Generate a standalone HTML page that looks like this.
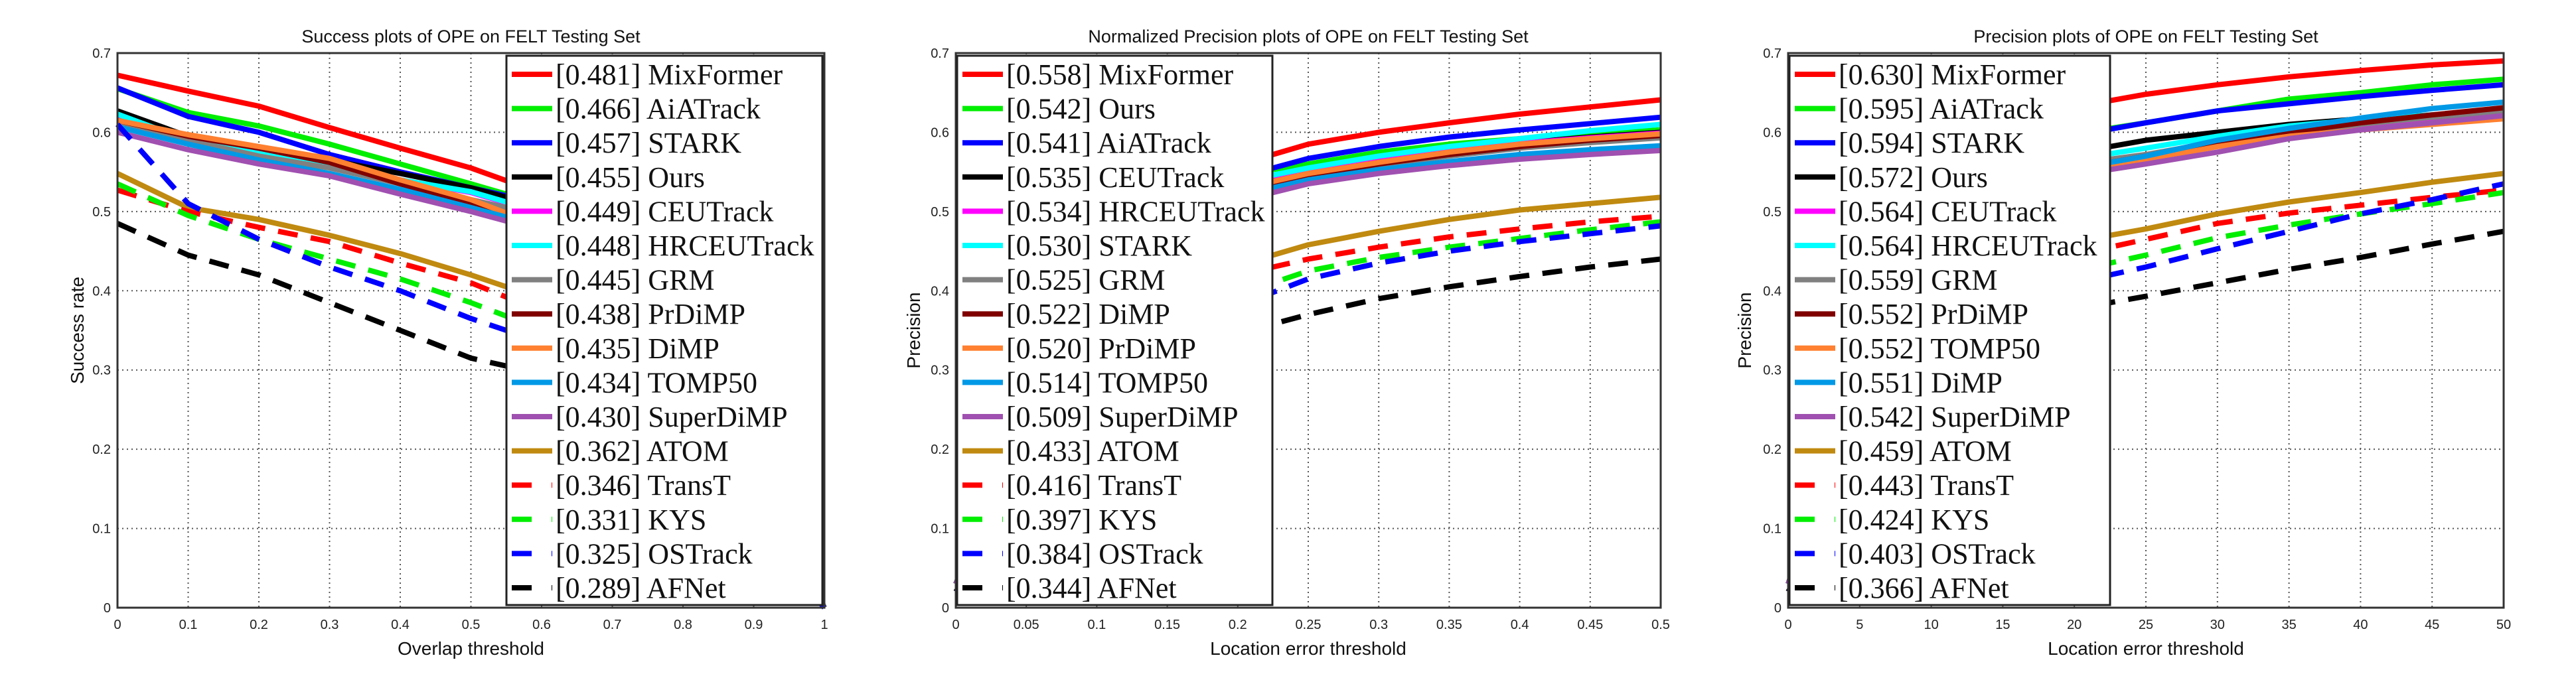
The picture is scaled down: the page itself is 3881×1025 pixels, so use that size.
<!DOCTYPE html>
<html><head><meta charset="utf-8">
<style>
html,body{margin:0;padding:0;background:#fff;}
svg{display:block;}
</style></head>
<body>
<svg id="chart" width="3881" height="1025" viewBox="0 0 3881 1025" xmlns="http://www.w3.org/2000/svg"></svg>
<script>
// ---------- Data ----------
// colours / styles by legend rank position
const rankColors = ['#ff0000','#00ee00','#0000ff','#000000','#ff00ff','#00ffff','#808080','#800000','#ff8030','#0099e6','#a050b0','#c08a10','#ff0000','#00ee00','#0000ff','#000000'];
const rankDashed = [false,false,false,false,false,false,false,false,false,false,false,false,true,true,true,true];

// Panel 1: Success
const p1X = [0,0.1,0.2,0.3,0.4,0.5,0.55,0.6,0.7,0.8,0.9,1.0];
const p1Names = ['MixFormer','AiATrack','STARK','Ours','CEUTrack','HRCEUTrack','GRM','PrDiMP','DiMP','TOMP50','SuperDiMP','ATOM','TransT','KYS','OSTrack','AFNet'];
const p1Scores = ['0.481','0.466','0.457','0.455','0.449','0.448','0.445','0.438','0.435','0.434','0.430','0.362','0.346','0.331','0.325','0.289'];
const p1Vals = [
 [0.672,0.652,0.633,0.606,0.580,0.555,0.539,0.52,0.46,0.36,0.2,0],
 [0.655,0.625,0.608,0.585,0.560,0.535,0.522,0.50,0.44,0.34,0.19,0],
 [0.656,0.620,0.600,0.572,0.550,0.530,0.520,0.50,0.44,0.34,0.19,0],
 [0.627,0.595,0.580,0.565,0.548,0.530,0.518,0.49,0.43,0.33,0.18,0],
 [0.620,0.590,0.575,0.560,0.540,0.524,0.511,0.49,0.43,0.33,0.18,0],
 [0.623,0.590,0.575,0.560,0.540,0.525,0.512,0.49,0.43,0.33,0.18,0],
 [0.610,0.590,0.570,0.555,0.535,0.515,0.505,0.48,0.42,0.32,0.17,0],
 [0.615,0.595,0.580,0.562,0.535,0.510,0.497,0.47,0.41,0.32,0.17,0],
 [0.615,0.597,0.582,0.567,0.540,0.515,0.498,0.47,0.41,0.32,0.17,0],
 [0.607,0.585,0.565,0.548,0.528,0.505,0.493,0.47,0.41,0.31,0.17,0],
 [0.600,0.578,0.560,0.545,0.522,0.500,0.488,0.46,0.40,0.31,0.16,0],
 [0.548,0.505,0.490,0.470,0.447,0.420,0.405,0.38,0.33,0.25,0.13,0],
 [0.527,0.500,0.480,0.462,0.435,0.410,0.392,0.37,0.32,0.24,0.12,0],
 [0.535,0.495,0.465,0.440,0.415,0.385,0.368,0.35,0.30,0.22,0.11,0],
 [0.610,0.510,0.465,0.430,0.400,0.365,0.350,0.33,0.28,0.21,0.10,0],
 [0.485,0.445,0.420,0.385,0.350,0.315,0.305,0.29,0.25,0.19,0.09,0]
];

// Panel 2: Normalized precision
const p2X = [0,0.05,0.1,0.15,0.2,0.225,0.25,0.3,0.35,0.4,0.45,0.5];
const p2Names = ['MixFormer','Ours','AiATrack','CEUTrack','HRCEUTrack','STARK','GRM','DiMP','PrDiMP','TOMP50','SuperDiMP','ATOM','TransT','KYS','OSTrack','AFNet'];
const p2Scores = ['0.558','0.542','0.541','0.535','0.534','0.530','0.525','0.522','0.520','0.514','0.509','0.433','0.416','0.397','0.384','0.344'];
const p2Vals = [
 [0.03,0.25,0.42,0.51,0.555,0.572,0.585,0.600,0.612,0.623,0.632,0.641],
 [0.03,0.24,0.41,0.50,0.540,0.553,0.560,0.575,0.585,0.592,0.598,0.603],
 [0.03,0.24,0.41,0.50,0.540,0.555,0.567,0.582,0.594,0.603,0.611,0.619],
 [0.03,0.24,0.40,0.49,0.530,0.542,0.550,0.565,0.577,0.587,0.594,0.600],
 [0.03,0.24,0.40,0.49,0.530,0.541,0.549,0.564,0.576,0.586,0.593,0.599],
 [0.03,0.24,0.40,0.49,0.532,0.546,0.555,0.570,0.582,0.592,0.602,0.610],
 [0.03,0.23,0.39,0.48,0.525,0.536,0.545,0.558,0.570,0.580,0.587,0.593],
 [0.03,0.23,0.39,0.48,0.525,0.537,0.545,0.560,0.572,0.582,0.590,0.596],
 [0.03,0.23,0.39,0.48,0.525,0.538,0.548,0.562,0.575,0.585,0.592,0.598],
 [0.03,0.23,0.39,0.47,0.520,0.530,0.540,0.553,0.563,0.572,0.578,0.583],
 [0.03,0.22,0.38,0.47,0.515,0.524,0.535,0.548,0.558,0.566,0.572,0.577],
 [0.02,0.16,0.30,0.38,0.430,0.445,0.458,0.475,0.490,0.502,0.510,0.518],
 [0.02,0.15,0.29,0.37,0.415,0.430,0.440,0.455,0.468,0.478,0.487,0.494],
 [0.02,0.14,0.27,0.35,0.395,0.410,0.425,0.442,0.455,0.466,0.477,0.487],
 [0.02,0.13,0.26,0.34,0.385,0.398,0.415,0.435,0.450,0.462,0.472,0.482],
 [0.02,0.11,0.22,0.30,0.340,0.358,0.370,0.390,0.405,0.418,0.430,0.440]
];

// Panel 3: Precision
const p3X = [0,5,10,15,20,22.5,25,30,35,40,45,50];
const p3Names = ['MixFormer','AiATrack','STARK','Ours','CEUTrack','HRCEUTrack','GRM','PrDiMP','TOMP50','DiMP','SuperDiMP','ATOM','TransT','KYS','OSTrack','AFNet'];
const p3Scores = ['0.630','0.595','0.594','0.572','0.564','0.564','0.559','0.552','0.552','0.551','0.542','0.459','0.443','0.424','0.403','0.366'];
const p3Vals = [
 [0.03,0.30,0.50,0.59,0.630,0.640,0.648,0.660,0.670,0.678,0.685,0.690],
 [0.03,0.28,0.47,0.56,0.595,0.605,0.612,0.627,0.642,0.650,0.660,0.667],
 [0.03,0.28,0.47,0.56,0.595,0.604,0.612,0.627,0.636,0.645,0.653,0.660],
 [0.03,0.26,0.45,0.54,0.575,0.582,0.590,0.600,0.610,0.617,0.622,0.627],
 [0.03,0.26,0.44,0.53,0.555,0.560,0.567,0.585,0.598,0.607,0.615,0.622],
 [0.03,0.26,0.44,0.53,0.565,0.573,0.580,0.595,0.608,0.616,0.622,0.627],
 [0.03,0.26,0.44,0.53,0.560,0.566,0.572,0.588,0.600,0.610,0.619,0.626],
 [0.03,0.25,0.43,0.52,0.555,0.562,0.570,0.585,0.600,0.612,0.622,0.631],
 [0.03,0.25,0.43,0.52,0.552,0.558,0.565,0.582,0.595,0.603,0.610,0.617],
 [0.03,0.25,0.43,0.52,0.555,0.562,0.570,0.590,0.605,0.618,0.630,0.638],
 [0.03,0.25,0.42,0.51,0.545,0.553,0.560,0.575,0.592,0.603,0.612,0.621],
 [0.02,0.18,0.33,0.42,0.460,0.470,0.478,0.497,0.512,0.524,0.537,0.548],
 [0.02,0.17,0.32,0.41,0.445,0.455,0.465,0.485,0.498,0.508,0.518,0.527],
 [0.02,0.16,0.30,0.39,0.425,0.435,0.445,0.467,0.483,0.497,0.510,0.524],
 [0.02,0.15,0.29,0.38,0.410,0.420,0.430,0.453,0.475,0.497,0.515,0.535],
 [0.02,0.13,0.25,0.34,0.375,0.385,0.393,0.410,0.427,0.442,0.459,0.475]
];

const yTicks = ['0','0.1','0.2','0.3','0.4','0.5','0.6','0.7'];
const p1Ticks = ['0','0.1','0.2','0.3','0.4','0.5','0.6','0.7','0.8','0.9','1'];
const p2Ticks = ['0','0.05','0.1','0.15','0.2','0.25','0.3','0.35','0.4','0.45','0.5'];
const p3Ticks = ['0','5','10','15','20','25','30','35','40','45','50'];

// ---------- Drawing ----------
const NS='http://www.w3.org/2000/svg';
const svg=document.getElementById('chart');
function el(tag, attrs, parent){const e=document.createElementNS(NS,tag);for(const k in attrs)e.setAttribute(k,attrs[k]);(parent||svg).appendChild(e);return e;}
function txt(str, attrs, parent){const e=el('text',attrs,parent);e.textContent=str;return e;}

function panel(cfg){
  const g=el('g',{});
  
  
  const T=80,B=916,L=cfg.L,R=cfg.R;
  const xs=v=>L+(v-cfg.xmin)/(cfg.xmax-cfg.xmin)*(R-L);
  const ys=v=>B-(v/0.7)*(B-T);
  cfg.ticks.forEach((t,i)=>{
    const v=cfg.xmin+i*(cfg.xmax-cfg.xmin)/(cfg.ticks.length-1);
    const x=xs(v);
    if(i>0&&i<cfg.ticks.length-1){const gl=el('line',{x1:x,y1:T,x2:x,y2:B,stroke:'#555','stroke-width':2,'stroke-dasharray':'2 5'},g);
      }
    const tl=txt(t,{x:x,y:948,'font-family':'Liberation Sans, sans-serif','font-size':20,'text-anchor':'middle',fill:'#222'},g);
    
  });
  yTicks.forEach((t,i)=>{
    const y=ys(i*0.1);
    if(i>0&&i<yTicks.length-1){const gl=el('line',{x1:L,y1:y,x2:R,y2:y,stroke:'#555','stroke-width':2,'stroke-dasharray':'2 5'},g);
      }
    const tl=txt(t,{x:L-10,y:y+7,'font-family':'Liberation Sans, sans-serif','font-size':20,'text-anchor':'end',fill:'#222'},g);
    
  });
  cfg.names.forEach((n,i)=>{
    const pts=cfg.x.map((xv,j)=>xs(xv).toFixed(1)+','+ys(cfg.vals[i][j]).toFixed(1)).join(' ');
    const a={points:pts,fill:'none',stroke:rankColors[i],'stroke-width':8,'stroke-linejoin':'round'};
    if(rankDashed[i])a['stroke-dasharray']='30 20';
    const p=el('polyline',a,g);
    
    
  });
  const bx=el('rect',{x:L,y:T,width:R-L,height:B-T,fill:'none',stroke:'#333','stroke-width':3},g);
  
  const ti=txt(cfg.title,{x:(L+R)/2,y:64,'font-family':'Liberation Sans, sans-serif','font-size':27,'text-anchor':'middle',fill:'#111'},g);
  
  const xl=txt(cfg.xlabel,{x:(L+R)/2,y:987,'font-family':'Liberation Sans, sans-serif','font-size':28,'text-anchor':'middle',fill:'#111'},g);
  
  const yl=txt(cfg.ylabel,{x:0,y:0,'font-family':'Liberation Sans, sans-serif','font-size':28,'text-anchor':'middle',fill:'#111',transform:'translate('+cfg.ylx+',498) rotate(-90)'},g);
  
  const lg=el('g',{},g);
  
  
  el('rect',{x:cfg.lx1,y:84,width:cfg.lx2-cfg.lx1,height:828,fill:'#fff',stroke:'#222','stroke-width':3},lg);
  cfg.names.forEach((n,i)=>{
    const y=112+i*51.6;
    const e=el('g',{},lg);
    
    
    const a={x1:cfg.lx1+8,y1:y,x2:cfg.lx1+69,y2:y,stroke:rankColors[i],'stroke-width':8};
    if(rankDashed[i]){a['stroke-dasharray']='30 30';}
    el('line',a,e);
    txt('['+cfg.scores[i]+'] '+n,{x:cfg.lx1+74,y:y+15,'font-family':'Liberation Serif, serif','font-size':44,fill:'#111'},e);
  });
}

panel({id:'success',L:177,R:1242,xmin:0,xmax:1,x:p1X,names:p1Names,scores:p1Scores,vals:p1Vals,ticks:p1Ticks,
  title:'Success plots of OPE on FELT Testing Set',xlabel:'Overlap threshold',ylabel:'Success rate',ylx:126,lx1:763,lx2:1239});
panel({id:'norm-precision',L:1440,R:2502,xmin:0,xmax:0.5,x:p2X,names:p2Names,scores:p2Scores,vals:p2Vals,ticks:p2Ticks,
  title:'Normalized Precision plots of OPE on FELT Testing Set',xlabel:'Location error threshold',ylabel:'Precision',ylx:1386,lx1:1442,lx2:1917});
panel({id:'precision',L:2694,R:3772,xmin:0,xmax:50,x:p3X,names:p3Names,scores:p3Scores,vals:p3Vals,ticks:p3Ticks,
  title:'Precision plots of OPE on FELT Testing Set',xlabel:'Location error threshold',ylabel:'Precision',ylx:2638,lx1:2696,lx2:3179});
</script>
</body></html>
